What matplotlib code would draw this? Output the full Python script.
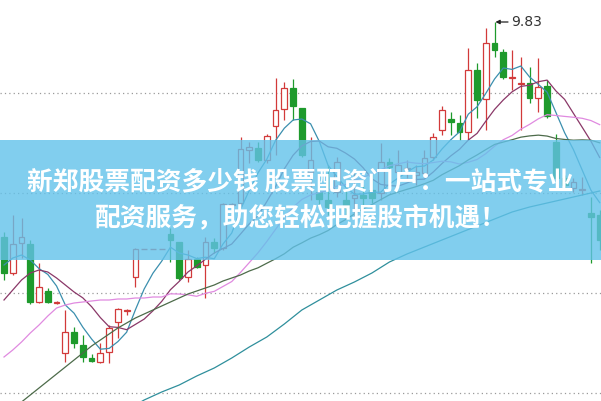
import numpy as np
import pandas as pd
import matplotlib
matplotlib.use("Agg")
import matplotlib.pyplot as plt
from matplotlib.patches import Rectangle

# daily prices
opens = [8.755, 8.575, 8.725, 8.720, 8.430, 8.485, 8.425, 8.175, 8.280, 8.215,
         8.150, 8.130, 8.180, 8.330, 8.385, 8.555, 8.695, 8.695, 8.695, 8.770,
         8.730, 8.555, 8.645, 8.615, 8.730, 8.700, 8.915, 8.925, 9.190, 9.200,
         9.140, 9.310, 9.395, 9.500, 9.400, 9.080, 8.980, 8.940, 8.980, 8.940,
         8.950, 8.965, 8.990, 8.975, 9.130, 9.080, 9.095, 9.065, 9.075, 9.155,
         9.290, 9.345, 9.325, 9.280, 9.590, 9.445, 9.725, 9.680, 9.550, 9.520,
         9.525, 9.450, 9.510, 9.230, 9.050, 9.000, 8.990, 8.875, 8.865]
closes = [8.575, 8.720, 8.755, 8.430, 8.505, 8.430, 8.430, 8.280, 8.225, 8.155,
          8.135, 8.175, 8.300, 8.395, 8.390, 8.695, 8.695, 8.695, 8.695, 8.740,
          8.550, 8.645, 8.605, 8.730, 8.700, 8.920, 8.920, 9.195, 9.205, 9.140,
          9.260, 9.390, 9.500, 9.410, 9.165, 9.140, 8.945, 8.905, 9.130, 8.900,
          8.965, 8.950, 8.950, 9.130, 9.105, 9.115, 9.100, 9.080, 9.150, 9.255,
          9.390, 9.330, 9.280, 9.590, 9.440, 9.725, 9.690, 9.555, 9.555, 9.525,
          9.450, 9.505, 9.360, 9.050, 9.015, 9.030, 8.995, 8.855, 8.740]
highs = [8.780, 8.865, 8.850, 8.740, 8.625, 8.500, 8.435, 8.390, 8.305, 8.265,
         8.170, 8.225, 8.315, 8.400, 8.395, 8.700, 8.695, 8.695, 8.695, 8.800,
         8.730, 8.690, 8.655, 8.755, 8.750, 8.925, 8.925, 9.255, 9.230, 9.230,
         9.270, 9.550, 9.530, 9.545, 9.400, 9.255, 9.065, 9.115, 9.155, 8.990,
         9.090, 9.015, 9.075, 9.225, 9.150, 9.190, 9.140, 9.115, 9.190, 9.275,
         9.410, 9.380, 9.365, 9.700, 9.625, 9.800, 9.830, 9.695, 9.690, 9.655,
         9.605, 9.650, 9.540, 9.270, 9.065, 9.050, 9.055, 8.955, 8.890]
lows = [8.540, 8.565, 8.650, 8.420, 8.425, 8.425, 8.420, 8.130, 8.200, 8.130,
        8.130, 8.125, 8.125, 8.250, 8.365, 8.505, 8.695, 8.695, 8.695, 8.630,
        8.540, 8.530, 8.600, 8.450, 8.675, 8.690, 8.910, 8.905, 9.125, 9.130,
        9.125, 9.165, 9.340, 9.340, 9.155, 8.940, 8.915, 8.865, 8.955, 8.865,
        8.855, 8.915, 8.925, 8.940, 9.075, 9.040, 9.050, 9.015, 9.050, 9.140,
        9.265, 9.265, 9.240, 9.240, 9.350, 9.290, 9.655, 9.545, 9.490, 9.290,
        9.425, 9.380, 9.350, 9.040, 8.990, 8.980, 8.965, 8.625, 8.690]

# moving averages before the window has enough closes
ma5_head = [8.615, 8.650, 8.665, 8.640]
ma10_head = [8.440, 8.490, 8.540, 8.575, 8.590, 8.580, 8.550, 8.515, 8.480]
ma20_head = [8.155, 8.190, 8.230, 8.275, 8.315, 8.360, 8.400, 8.415, 8.425, 8.430,
             8.435, 8.440, 8.440, 8.445, 8.445, 8.450, 8.450, 8.455, 8.455]
ma30_head = [7.860, 7.895, 7.930, 7.965, 8.000, 8.035, 8.070, 8.105, 8.140, 8.175,
             8.210, 8.240, 8.270, 8.300, 8.325, 8.350, 8.370, 8.390, 8.410, 8.430,
             8.450, 8.470, 8.485, 8.500, 8.515, 8.535, 8.550, 8.565, 8.585]
ma60_days = [14, 16, 18, 20, 22, 24, 26, 28, 30, 32, 34, 36, 38, 40, 42, 44,
             46, 48, 50, 52, 54, 56, 58, 60, 62, 64, 66, 68]
ma60_vals = [7.890, 7.940, 7.980, 8.015, 8.060, 8.100, 8.150, 8.205, 8.255, 8.320,
             8.390, 8.440, 8.490, 8.530, 8.575, 8.630, 8.670, 8.705, 8.740, 8.775,
             8.810, 8.845, 8.880, 8.905, 8.925, 8.945, 8.965, 8.985]

grid_levels = [9.475, 8.975, 8.475, 7.975]
peak_label = "9.83"
banner_lines = ["新郑股票配资多少钱 股票配资门户：一站式专业",
                "配资服务，助您轻松把握股市机遇！"]

red = '#d23a3a'
green = '#1e9a2c'

fig = plt.figure(figsize=(6.01, 4.01), dpi=100)
ax = fig.add_axes([0, 0, 1, 1])
ax.set_xlim(-0.457, 68.15)
ax.set_ylim(7.935, 9.94)
ax.axis('off')

for lvl in grid_levels:
    ax.axhline(lvl, color='#9a9a9a', lw=0.9, ls=(0, (1, 2.5)), zorder=0)

# candles
for i in range(len(closes)):
    o, c, h, l = opens[i], closes[i], highs[i], lows[i]
    up = c >= o
    col = red if up else green
    ax.vlines(i, l, h, color=col, lw=0.9, zorder=2)
    if abs(c - o) < 0.004:
        ax.hlines(c, i - 0.33, i + 0.33, color=col, lw=1.0, zorder=3)
    else:
        ax.add_patch(Rectangle((i - 0.33, min(o, c)), 0.66, abs(c - o),
                               facecolor='white' if up else col,
                               edgecolor=col, lw=0.9, zorder=3))

# moving averages
close_s = pd.Series(closes)
days = np.arange(len(closes))


def moving_avg(n, head):
    ma = close_s.rolling(n).mean()
    ma.iloc[:n - 1] = head
    return ma


ax.plot(days, moving_avg(5, ma5_head), color='#3b8fae', lw=0.9, zorder=4)
ax.plot(days, moving_avg(10, ma10_head), color='#8a3868', lw=0.9, zorder=4)
ax.plot(days, moving_avg(20, ma20_head), color='#e08ae0', lw=0.9, zorder=4)
ax.plot(days, moving_avg(30, ma30_head), color='#4d6b4a', lw=0.9, zorder=4)
ax.plot(ma60_days, ma60_vals, color='#2f8f9c', lw=0.9, zorder=4)

# highest price marker
top = int(np.argmax(highs))
ax.annotate(peak_label, xy=(top + 0.1, highs[top]), xytext=(top + 1.85, highs[top]),
            fontsize=10, color='#333333', ha='left', va='center',
            arrowprops=dict(arrowstyle='-|>', color='#222222', lw=0.9,
                            mutation_scale=6, shrinkA=0, shrinkB=0),
            zorder=6)

# banner across the middle
ax.axhspan(8.64, 9.24, color='#62c2ea', alpha=0.8, lw=0, zorder=5)
fam = ['Noto Sans CJK SC', 'DejaVu Sans']
ax.text(0.5, 0.546, banner_lines[0], transform=ax.transAxes, ha='center', va='center',
        fontsize=18.5, fontweight='bold', color='white', family=fam, zorder=6)
ax.text(0.5, 0.456, banner_lines[1], transform=ax.transAxes, ha='center', va='center',
        fontsize=18.5, fontweight='bold', color='white', family=fam, zorder=6)

fig.savefig('out.png', dpi=100)
